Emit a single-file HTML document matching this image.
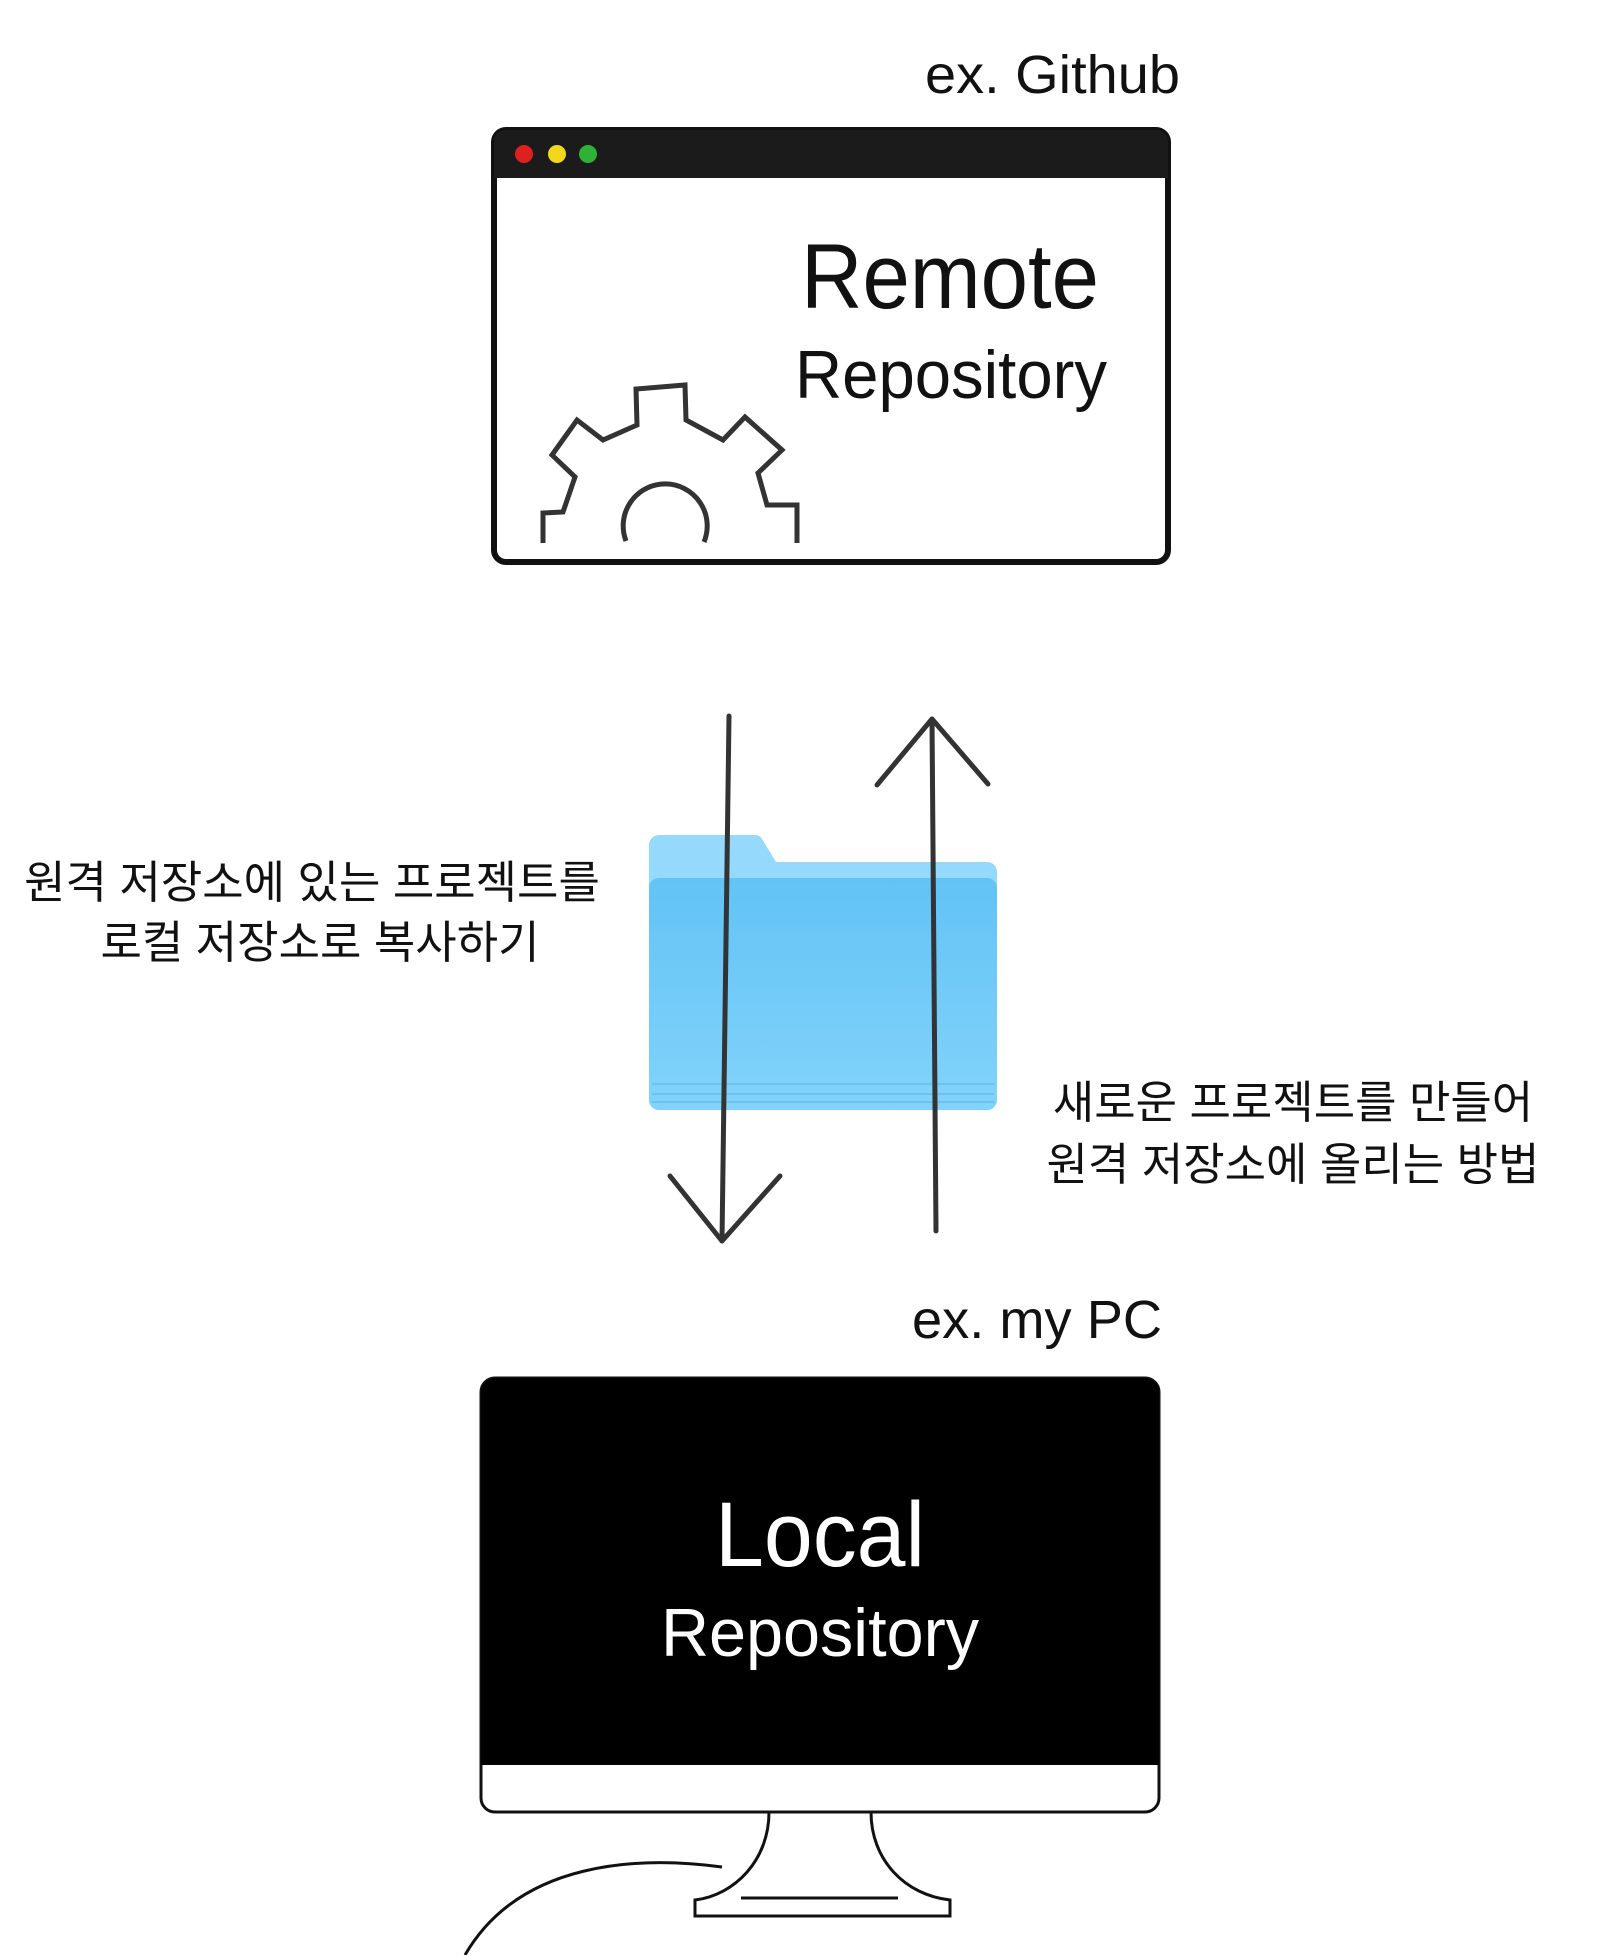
<!DOCTYPE html>
<html><head><meta charset="utf-8"><style>
html,body{margin:0;padding:0;background:#fff;}
svg{display:block;}
text{font-family:"Liberation Sans","Noto Sans CJK KR",sans-serif;}
</style></head><body>
<svg width="1600" height="1955" viewBox="0 0 1600 1955" xmlns="http://www.w3.org/2000/svg">
<defs>
<linearGradient id="fg" x1="0" y1="0" x2="0" y2="1">
<stop offset="0" stop-color="#62c3f5"/><stop offset="1" stop-color="#82d3fb"/>
</linearGradient>
</defs>
<text x="925" y="93" font-size="54" fill="#111" textLength="255" lengthAdjust="spacingAndGlyphs">ex. Github</text>
<!-- window -->
<rect x="494" y="130" width="674" height="432" rx="12" fill="#fff" stroke="#111" stroke-width="6"/>
<path d="M494 178 V142 a12 12 0 0 1 12 -12 H1156 a12 12 0 0 1 12 12 V178 Z" fill="#1b1b1b"/>
<circle cx="524" cy="154" r="9" fill="#e0201f"/>
<circle cx="557" cy="154" r="9" fill="#f0d81a"/>
<circle cx="588" cy="154" r="9" fill="#2eb135"/>
<text x="950" y="308" font-size="92" text-anchor="middle" fill="#111" textLength="298" lengthAdjust="spacingAndGlyphs">Remote</text>
<text x="951" y="398" font-size="68" text-anchor="middle" fill="#111" textLength="312" lengthAdjust="spacingAndGlyphs">Repository</text>
<path d="M543 543 L543 513 L563 512 L575 477 L552 455 L577 420 L603 440 L637 425 L636 389 L685 385 L686 420 L723 440 L745 417 L782 450 L758 473 L767 505 L797 505 L797 543" fill="none" stroke="#333" stroke-width="5"/>
<path d="M626 541 A42 42 0 1 1 704 542" fill="none" stroke="#333" stroke-width="5"/>
<!-- folder -->
<path d="M649 845 a10 10 0 0 1 10 -10 H755 a8 8 0 0 1 7 4 L776 862 H987 a10 10 0 0 1 10 10 V1100 a10 10 0 0 1 -10 10 H659 a10 10 0 0 1 -10 -10 Z" fill="#95d9fd"/>
<rect x="649" y="878" width="348" height="232" rx="10" fill="url(#fg)"/>
<line x1="652" y1="1084" x2="994" y2="1084" stroke="#6cc3ee" stroke-width="2"/>
<line x1="652" y1="1094" x2="994" y2="1094" stroke="#6cc3ee" stroke-width="2"/>
<line x1="652" y1="1102" x2="994" y2="1102" stroke="#6cc3ee" stroke-width="2"/>
<!-- arrows -->
<g fill="none" stroke="#333" stroke-width="5" stroke-linecap="round" stroke-linejoin="round">
<path d="M729 716 L722 1241"/>
<path d="M670 1176 L722 1241 L780 1176"/>
<path d="M936 1231 L932 719"/>
<path d="M877 785 L932 719 L988 784"/>
</g>
<text x="312" y="898" font-size="45" text-anchor="middle" fill="#111">원격 저장소에 있는 프로젝트를</text>
<text x="320" y="958" font-size="45" text-anchor="middle" fill="#111">로컬 저장소로 복사하기</text>
<text x="1293" y="1118" font-size="45" text-anchor="middle" fill="#111">새로운 프로젝트를 만들어</text>
<text x="1293" y="1180" font-size="45" text-anchor="middle" fill="#111">원격 저장소에 올리는 방법</text>
<text x="912" y="1338" font-size="54" fill="#111" textLength="250" lengthAdjust="spacingAndGlyphs">ex. my PC</text>
<!-- monitor -->
<rect x="481" y="1378" width="678" height="434" rx="14" fill="#fff" stroke="#111" stroke-width="3"/>
<path d="M481 1765 V1392 a14 14 0 0 1 14 -14 H1145 a14 14 0 0 1 14 14 V1765 Z" fill="#000"/>
<text x="820" y="1566" font-size="92" text-anchor="middle" fill="#fff" textLength="210" lengthAdjust="spacingAndGlyphs">Local</text>
<text x="820" y="1656" font-size="68" text-anchor="middle" fill="#fff" textLength="318" lengthAdjust="spacingAndGlyphs">Repository</text>
<g fill="none" stroke="#111" stroke-width="3">
<path d="M769 1812 C769 1860 735 1895 695 1900 V1916 H950 V1900 C905 1895 871 1860 871 1812"/>
<line x1="741" y1="1898" x2="898" y2="1898"/>
<path d="M722 1867 C640 1856 520 1860 465 1955"/>
</g>
</svg>
</body></html>
